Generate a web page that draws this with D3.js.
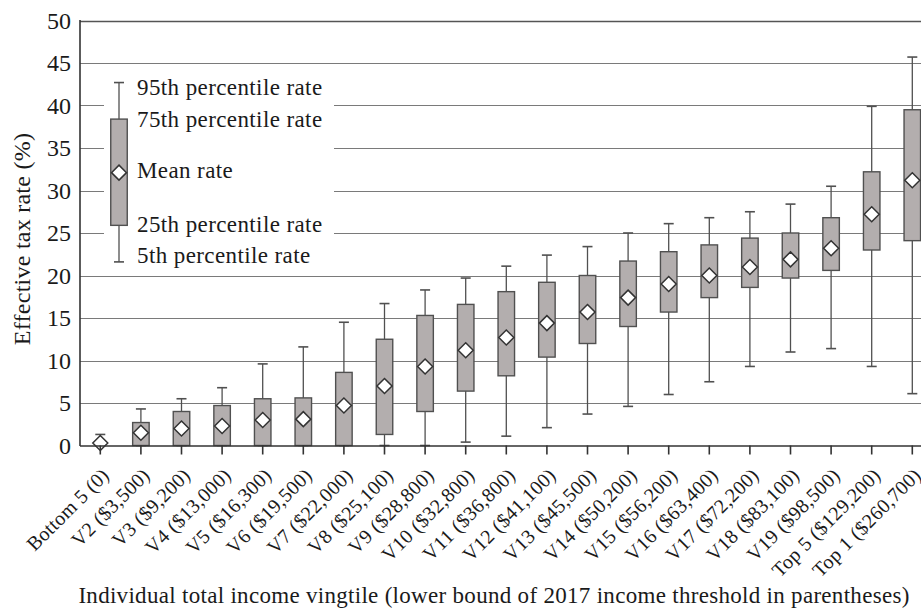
<!DOCTYPE html>
<html>
<head>
<meta charset="utf-8">
<script src="https://cdn.jsdelivr.net/npm/d3@7"></script>
<style>
  html, body { margin: 0; padding: 0; background: #fff; }
  svg { display: block; }
  text { font-family: "Liberation Serif", "Times New Roman", serif; fill: #1a1a1a; }
</style>
</head>
<body>
<svg id="chart" width="921" height="613"></svg>
<script>
// Effective tax rate distribution by income vingtile
const categories = [
  "Bottom 5 (0)", "V2 ($3,500)", "V3 ($9,200)", "V4 ($13,000)", "V5 ($16,300)",
  "V6 ($19,500)", "V7 ($22,000)", "V8 ($25,100)", "V9 ($28,800)", "V10 ($32,800)",
  "V11 ($36,800)", "V12 ($41,100)", "V13 ($45,500)", "V14 ($50,200)", "V15 ($56,200)",
  "V16 ($63,400)", "V17 ($72,200)", "V18 ($83,100)", "V19 ($98,500)",
  "Top 5 ($129,200)", "Top 1 ($260,700)"
];
const p5   = [0, 0, 0, 0, 0, 0, 0, 0, 0, 0.4, 1.1, 2.1, 3.7, 4.6, 6.0, 7.5, 9.3, 11.0, 11.4, 9.3, 6.1];
const p25  = [0, 0, 0, 0, 0, 0, 0, 1.3, 4.0, 6.4, 8.2, 10.4, 12.0, 14.0, 15.7, 17.4, 18.6, 19.7, 20.6, 23.0, 24.1];
const mean = [0.3, 1.5, 2.0, 2.3, 3.0, 3.1, 4.7, 7.0, 9.3, 11.2, 12.7, 14.4, 15.7, 17.4, 19.0, 20.0, 21.0, 21.9, 23.2, 27.2, 31.2];
const p75  = [0, 2.7, 4.0, 4.7, 5.5, 5.6, 8.6, 12.5, 15.3, 16.6, 18.1, 19.2, 20.0, 21.7, 22.8, 23.6, 24.4, 25.0, 26.8, 32.2, 39.5];
const p95  = [1.3, 4.3, 5.5, 6.8, 9.6, 11.6, 14.5, 16.7, 18.3, 19.7, 21.1, 22.4, 23.4, 25.0, 26.1, 26.8, 27.5, 28.4, 30.5, 39.9, 45.7];

const yTicks = [0, 5, 10, 15, 20, 25, 30, 35, 40, 45, 50];

// Key: sample box with the meaning of each part
const keyLabels = ["95th percentile rate", "75th percentile rate", "Mean rate", "25th percentile rate", "5th percentile rate"];
const keyValues = [42.7, 38.4, 32.1, 25.9, 21.6];   // p95, p75, mean, p25, p5

const yTitle = "Effective tax rate (%)";
const xTitle = "Individual total income vingtile (lower bound of 2017 income threshold in parentheses)";

const svg = d3.select("#chart");
const plotLeft = 80, plotTop = 20.5, plotBottom = 445.5, step = 40.6;
const plotRight = plotLeft + step * categories.length;

const x = d3.scaleBand().domain(categories).range([plotLeft, plotRight]).padding(0);
const y = d3.scaleLinear().domain([0, 50]).range([plotBottom, plotTop]);
const cx = c => x(c) + x.bandwidth() / 2;

const boxW = 16.5, capW = 10, dHalf = 7.5;
const stroke = "#505050";
const boxFill = "#b3aeae";

// Horizontal grid lines
svg.append("g").selectAll("line")
  .data(yTicks.filter(t => t > 0))
  .join("line")
  .attr("x1", plotLeft).attr("x2", 921)
  .attr("y1", d => Math.round(y(d)) + 0.5).attr("y2", d => Math.round(y(d)) + 0.5)
  .attr("stroke", d => d === 50 ? "#555" : "#7a7a7a")
  .attr("stroke-width", d => d === 50 ? 1.4 : 1.1);

// Y axis labels
const yAxis = d3.axisLeft(y).tickValues(yTicks).tickSize(0).tickPadding(9).tickFormat(d3.format("d"));
const gy = svg.append("g").attr("transform", `translate(${plotLeft},0)`).call(yAxis);
gy.select(".domain").remove();
gy.selectAll("text").attr("font-size", 24).attr("font-family", "Liberation Serif").attr("fill", "#1a1a1a");

// Key panel clears the grid behind it
const key = svg.append("g");
key.append("rect").attr("x", 104).attr("y", 70).attr("width", 230).attr("height", 198).attr("fill", "#fff");

// Box plots
const data = categories.map((c, i) => ({ c, p5: p5[i], p25: p25[i], mean: mean[i], p75: p75[i], p95: p95[i] }));
const g = svg.append("g");

function drawBox(sel, xc, v) {
  sel.append("line")
    .attr("x1", xc).attr("x2", xc).attr("y1", y(v.p5)).attr("y2", y(v.p95))
    .attr("stroke", stroke).attr("stroke-width", 1.3);
  [v.p5, v.p95].forEach(val => {
    sel.append("line")
      .attr("x1", xc - capW / 2).attr("x2", xc + capW / 2).attr("y1", y(val)).attr("y2", y(val))
      .attr("stroke", stroke).attr("stroke-width", 1.6);
  });
  if (v.p75 > v.p25) {
    sel.append("rect")
      .attr("x", xc - boxW / 2).attr("width", boxW)
      .attr("y", y(v.p75)).attr("height", y(v.p25) - y(v.p75))
      .attr("fill", boxFill).attr("stroke", stroke).attr("stroke-width", 1.4);
  }
  const ym = y(v.mean);
  sel.append("path")
    .attr("d", `M${xc},${ym - dHalf}L${xc + dHalf},${ym}L${xc},${ym + dHalf}L${xc - dHalf},${ym}Z`)
    .attr("fill", "#fff").attr("stroke", "#333").attr("stroke-width", 1.5);
}

data.forEach(d => drawBox(g.append("g"), cx(d.c), d));

// Key sample
const keyX = 119;
drawBox(key.append("g"), keyX, { p95: keyValues[0], p75: keyValues[1], mean: keyValues[2], p25: keyValues[3], p5: keyValues[4] });
const keyTextY = [95, 127, 178, 232, 263];
key.selectAll("text.k").data(keyLabels).join("text")
  .attr("class", "k")
  .attr("x", 137).attr("y", (d, i) => keyTextY[i])
  .attr("font-size", 23).attr("letter-spacing", 0.4)
  .text(d => d);

// Axis frame
svg.append("line").attr("x1", plotLeft).attr("x2", plotLeft).attr("y1", plotTop - 0.5).attr("y2", plotBottom + 0.5)
  .attr("stroke", "#333").attr("stroke-width", 1.6);

// X axis with rotated labels
const xAxis = d3.axisBottom(x).tickSize(9).tickPadding(0);
const gx = svg.append("g").attr("transform", `translate(0,${plotBottom})`).call(xAxis);
gx.select(".domain").attr("stroke", "#333").attr("stroke-width", 1.6).attr("d", `M${plotLeft},0.5H921`);
gx.selectAll(".tick line").attr("stroke", "#333").attr("stroke-width", 1.6);
gx.selectAll(".tick text")
  .attr("font-size", 20).attr("letter-spacing", 0.3)
  .attr("fill", "#1a1a1a")
  .attr("text-anchor", "end")
  .attr("y", 0).attr("dy", 0)
  .attr("transform", "translate(10,31) rotate(-45)");

// Axis titles
svg.append("text")
  .attr("transform", "translate(30,239) rotate(-90)")
  .attr("text-anchor", "middle").attr("font-size", 24).attr("letter-spacing", 0.25)
  .text(yTitle);

svg.append("text")
  .attr("x", 494).attr("y", 603)
  .attr("text-anchor", "middle").attr("font-size", 23).attr("letter-spacing", 0.3)
  .text(xTitle);
</script>
</body>
</html>
